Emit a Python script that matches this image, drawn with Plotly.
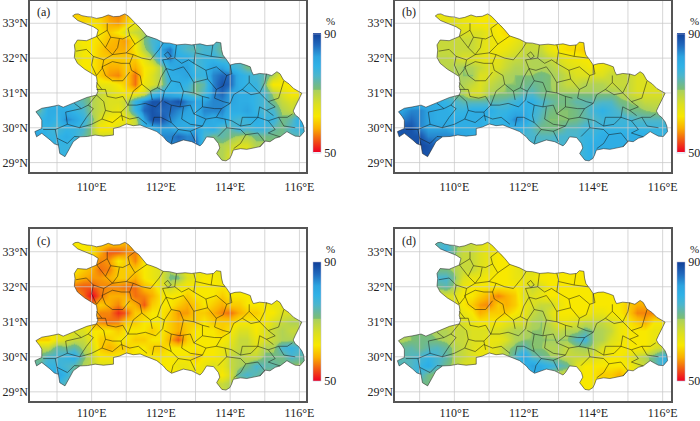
import plotly.graph_objects as go
from plotly.subplots import make_subplots

# grid of the humidity fields, 0.25 degree
lons = [108.25 + 0.25 * i for i in range(33)]
lats = [33.25 - 0.25 * i for i in range(18)]

panel_a = [
    [62,62,62,62,62,60,60, 61,60,57,56,58,64,68,70, 72,74,74,74,74,74,74,74, 74,74,74,74,74,74,74,74, 74,74],
    [62,62,62,62,62,62,61, 62,61,58,57,60,64,68,70, 72,74,74,74,74,74,74,74, 74,74,74,74,74,74,74,74, 74,74],
    [64,64,64,64,64,64,63, 62,62,60,62,66,68,70,72, 74,76,76,76,76,76,76,74, 74,74,74,74,74,74,74,74, 74,74],
    [66,66,66,66,66,64,62, 62,61,59,58,57,62,72,76, 78,78,76,76,76,76,76,74, 74,74,74,74,74,74,74,74, 74,74],
    [66,66,66,66,66,66,63, 62,60,58,58,58,62,70,75, 82,85,78,75,74,76,76,72, 74,74,74,74,74,74,74,74, 74,74],
    [66,66,66,66,66,66,62, 62,60,60,60,60,60,64,70, 80,84,80,80,76,78,78,75, 76,74,74,74,74,74,74,74, 74,74],
    [64,64,64,64,64,64,62, 62,60,58,58,60,58,62,64, 70,80,82,82,76,78,82,82, 78,76,72,72,72,72,72,72, 72,72],
    [66,66,66,66,66,66,66, 62,60,57,56,60,55,62,66, 70,80,80,82,78,78,84,86, 86,80,78,76,74,70,64,64, 64,64],
    [68,68,68,68,68,68,68, 66,64,64,62,60,55,64,66, 70,78,80,78,72,74,84,88, 86,80,78,78,72,62,62,62, 62,62],
    [72,72,72,72,72,72,72, 70,68,66,64,62,62,66,76, 80,80,78,76,72,76,84,86, 82,80,80,78,76,70,66,62, 62,62],
    [76,76,76,76,76,76,74, 70,68,66,66,68,78,84,88, 88,86,88,84,82,82,84,84, 82,80,80,78,76,72,68,66, 68,68],
    [74,74,80,80,80,78,76, 70,68,66,64,68,78,86,88, 86,86,84,82,80,84,84,84, 80,80,82,78,76,76,70,68, 70,70],
    [78,78,80,78,84,82,78, 72,66,62,62,64,68,82,88, 88,84,82,80,80,82,80,82, 78,76,78,80,78,78,72,74, 80,80],
    [80,78,78,76,78,78,76, 70,62,62,66,66,68,78,80, 82,82,80,80,82,78,80,74, 74,78,76,78,78,74,72,76, 78,78],
    [82,82,78,78,80,78,74, 70,68,68,68,68,70,72,78, 84,84,86,84,84,76,72,74, 72,70,70,72,72,72,72,74, 74,74],
    [80,80,80,78,78,76,72, 70,70,70,70,70,70,70,70, 84,84,84,84,86,76,70,70, 68,66,66,70,70,70,70,70, 70,70],
    [78,78,78,78,78,78,78, 70,70,70,70,70,70,70,70, 84,84,84,84,84,74,70,70, 66,66,66,68,68,68,68,68, 68,68],
    [78,78,78,78,78,78,78, 70,70,70,70,70,70,70,70, 84,84,84,84,84,74,70,70, 66,66,66,68,68,68,68,68, 68,68],
]
panel_b = [
    [64,64,64,64,64,64,64, 64,64,64,62,62,62,62,62, 62,62,62,62,62,62,62,62, 62,62,62,62,62,62,62,62, 62,62],
    [65,65,65,65,65,65,65, 66,64,63,62,62,62,62,62, 62,62,62,62,62,62,62,62, 62,62,62,62,62,62,62,62, 62,62],
    [66,66,66,66,66,66,66, 66,66,66,66,64,62,61,62, 64,64,64,64,64,64,64,64, 64,64,64,64,64,64,64,64, 64,64],
    [68,68,68,68,68,68,68, 68,68,68,66,64,63,62,64, 66,68,66,64,62,62,62,62, 62,62,62,62,62,62,62,62, 62,62],
    [68,68,68,68,68,68,68, 68,68,68,66,64,63,64,66, 68,68,68,64,62,61,61,60, 62,62,62,62,62,62,62,62, 62,62],
    [69,69,69,69,69,69,69, 68,66,66,65,64,65,67,68, 69,70,70,68,66,64,63,62, 62,62,62,62,62,62,62,62, 62,62],
    [69,69,69,69,69,69,69, 70,71,70,68,66,66,68,70, 70,70,70,70,68,66,65,64, 62,64,66,66,66,66,66,66, 66,66],
    [70,70,70,70,70,70,70, 70,71,71,66,66,68,70,71, 71,71,72,71,70,68,66,66, 66,66,68,68,68,66,66,66, 66,66],
    [71,71,71,71,71,71,71, 71,70,68,66,68,70,71,71, 72,73,72,71,70,68,68,70, 70,70,68,68,68,66,66,66, 66,66],
    [73,73,73,73,73,73,73, 71,70,66,66,70,71,71,72, 74,75,72,71,71,71,71,71, 71,71,71,70,68,66,66,66, 66,66],
    [78,78,78,78,78,80,78, 76,74,74,74,74,74,75,77, 79,79,76,74,72,72,74,74, 74,75,75,72,71,70,68,68, 68,68],
    [82,82,84,84,82,80,80, 78,78,80,80,80,78,78,80, 80,78,75,72,71,71,72,74, 77,79,77,75,72,72,71,70, 70,70],
    [84,84,86,84,82,80,80, 80,80,80,80,78,78,80,84, 82,77,74,71,71,71,72,74, 75,77,77,77,77,75,75,75, 75,75],
    [88,88,88,84,82,82,82, 80,80,80,80,78,78,78,80, 78,75,72,72,72,75,75,77, 77,78,78,78,78,78,78,78, 78,78],
    [86,88,88,88,84,84,84, 84,82,80,78,78,78,78,78, 76,76,75,75,76,76,76,78, 78,80,80,80,80,80,80,78, 78,78],
    [88,88,88,89,88,86,84, 82,82,80,78,78,78,78,78, 76,76,76,76,76,76,76,78, 80,80,80,80,80,80,80,78, 78,78],
    [88,88,88,88,88,86,84, 82,82,80,78,78,78,78,78, 76,76,76,76,76,76,76,78, 80,80,80,80,80,80,80,78, 78,78],
    [88,88,88,88,88,86,84, 82,82,80,78,78,78,78,78, 76,76,76,76,76,76,76,78, 80,80,80,80,80,80,80,78, 78,78],
]
panel_c = [
    [62,62,62,62,62,62,62, 61,60,60,60,58,62,64,66, 68,68,68,68,68,68,68,68, 68,68,68,68,68,68,68,68, 68,68],
    [62,62,62,62,62,62,62, 62,58,54,54,56,56,60,64, 68,68,68,68,68,68,68,68, 68,68,68,68,68,68,68,68, 68,68],
    [62,62,62,62,62,62,62, 60,56,57,62,60,56,62,64, 66,68,68,68,68,68,68,68, 68,68,68,68,68,68,68,68, 68,68],
    [62,62,62,62,62,62,60, 58,55,56,60,60,60,62,64, 66,70,68,64,64,64,64,64, 64,64,64,64,64,64,64,64, 64,64],
    [60,60,60,60,60,60,58, 57,57,58,60,60,58,62,64, 66,72,72,66,64,62,62,64, 64,64,64,64,64,64,64,64, 64,64],
    [58,58,58,58,58,55,54, 54,56,56,56,55,55,59,60, 64,68,64,62,62,62,62,62, 62,62,62,62,62,62,62,62, 62,62],
    [58,58,58,58,58,58,55, 50,55,58,58,58,55,56,58, 62,62,62,60,62,62,62,60, 62,62,62,62,62,62,62,62, 62,62],
    [60,60,60,60,60,60,60, 56,60,58,56,60,58,54,60, 62,62,60,58,60,62,60,58, 60,60,62,62,62,64,64,64, 64,64],
    [62,62,62,62,62,62,62, 60,56,56,52,54,60,60,62, 62,60,57,57,60,60,58,56, 55,58,60,60,62,62,66,66, 66,66],
    [64,64,64,64,64,64,64, 58,56,55,56,60,60,62,62, 62,60,58,60,60,62,60,60, 60,62,62,62,62,66,68,70, 70,70],
    [64,64,64,64,64,66,66, 62,62,62,60,62,62,62,60, 62,60,58,60,62,62,62,60, 62,66,66,62,66,68,70,68, 68,68],
    [60,60,60,64,66,68,68, 64,60,60,62,62,60,60,62, 62,58,54,60,62,62,62,62, 64,68,68,64,66,68,70,70, 70,70],
    [68,68,68,74,72,74,70, 66,60,58,60,60,62,62,60, 60,62,62,62,62,62,62,64, 66,68,68,66,70,70,76,78, 76,76],
    [72,72,76,76,78,80,72, 68,62,62,62,62,62,62,62, 62,62,62,62,60,62,62,64, 68,70,68,68,72,72,72,76, 74,74],
    [74,74,78,78,76,74,70, 68,66,66,64,62,62,62,62, 62,62,64,64,62,64,66,64, 68,70,72,76,74,74,72,70, 70,70],
    [76,76,76,82,78,72,68, 66,66,66,64,62,62,62,62, 62,62,62,64,64,64,64,62, 66,74,76,74,72,70,70,70, 70,70],
    [76,76,76,78,74,72,68, 66,66,66,64,62,62,62,62, 62,62,62,64,64,64,68,68, 70,70,70,70,70,70,70,70, 70,70],
    [76,76,76,78,74,72,68, 66,66,66,64,62,62,62,62, 62,62,62,64,64,64,68,68, 70,70,70,70,70,70,70,70, 70,70],
]
panel_d = [
    [70,70,70,70,72,74,76, 72,70,68,66,64,62,62,62, 62,62,62,62,62,62,62,62, 62,62,62,62,62,62,62,62, 62,62],
    [72,72,72,72,72,76,78, 72,68,68,66,64,62,62,62, 62,62,62,62,62,62,62,62, 62,62,62,62,62,62,62,62, 62,62],
    [72,72,72,72,72,72,72, 70,68,68,66,64,62,62,62, 62,62,62,62,62,62,62,62, 62,62,62,62,62,62,62,62, 62,62],
    [72,72,72,72,72,72,72, 70,68,68,66,64,62,62,64, 66,66,64,62,62,62,62,62, 62,62,62,62,62,62,62,62, 62,62],
    [74,74,74,74,74,76,76, 72,66,64,64,62,62,62,64, 64,64,62,62,62,62,62,62, 62,62,62,62,62,62,62,62, 62,62],
    [72,72,72,72,70,72,74, 70,64,62,62,62,62,62,62, 64,68,66,62,62,62,62,62, 62,62,62,62,62,62,62,62, 62,62],
    [66,66,66,66,66,66,66, 66,62,62,60,58,56,58,60, 66,66,64,62,62,62,62,62, 62,62,62,62,62,60,60,60, 60,60],
    [66,66,66,66,66,66,66, 66,62,60,57,56,60,58,60, 64,66,68,68,64,62,62,62, 62,62,62,62,60,58,58,58, 58,58],
    [66,66,66,66,66,66,66, 66,64,62,58,60,60,60,62, 64,68,70,66,62,62,62,62, 64,64,62,62,60,56,56,56, 56,56],
    [66,66,66,66,66,66,66, 66,66,64,62,62,62,64,66, 66,70,71,68,64,64,66,68, 68,68,66,64,62,60,58,62, 62,62],
    [71,71,71,71,71,70,70, 68,68,66,66,66,66,68,70, 70,71,71,70,68,70,70,73, 71,70,68,64,62,62,62,64, 64,64],
    [70,70,71,72,72,71,70, 68,68,66,66,64,64,66,70, 71,71,71,71,71,71,75,77, 71,70,66,64,62,62,62,64, 64,64],
    [71,73,74,72,74,75,73, 70,68,66,64,64,66,70,72, 75,71,71,70,70,68,70,71, 70,66,64,62,62,62,62,66, 68,70],
    [74,74,75,76,78,76,74, 70,68,66,64,64,66,70,75, 82,75,73,71,70,68,68,68, 66,64,62,62,64,68,70,73, 78,78],
    [75,75,75,78,80,76,72, 70,66,66,66,66,66,68,71, 78,82,80,78,75,73,66,62, 62,62,62,62,62,66,68,73, 78,78],
    [76,76,78,76,72,70,68, 68,68,68,68,68,68,68,71, 73,78,82,70,68,66,62,62, 62,60,60,58,62,66,68,70, 70,70],
    [72,72,72,72,72,70,68, 68,68,68,68,68,68,68,70, 74,76,76,70,68,66,62,62, 62,62,62,62,62,66,68,70, 70,70],
    [72,72,72,72,72,70,68, 68,68,68,68,68,68,68,70, 74,76,76,70,68,66,62,62, 62,62,62,62,62,66,68,70, 70,70],
]

# province outline
outline_lon = [109.45,109.52,109.61,109.72,109.87,110.0,110.14,110.3,110.48,110.63,110.8,110.96,111.07,111.16,111.25,111.36,111.45,111.59,111.72,111.88,112.07,112.25,112.46,112.7,112.89,113.13,113.33,113.52,113.6,113.73,
               113.75,113.79,113.9,114.0,114.14,114.29,114.45,114.58,114.62,114.67,114.85,115.06,115.2,115.35,115.44,115.54,115.7,115.83,116.07,115.97,115.92,115.88,115.82,115.88,115.97,116.07,116.12,116.14,116.02,115.88,115.76,115.64,115.44,
               115.3,115.15,115.0,114.87,114.68,114.48,114.3,114.09,114.04,113.99,113.88,113.76,113.61,113.7,113.66,113.52,113.32,113.2,113.13,112.89,112.65,112.48,112.31,112.17,112.07,111.88,111.65,111.40,111.2,111.01,
               110.8,110.63,110.63,110.47,110.34,110.10,109.88,109.66,109.55,109.47,109.36,109.23,109.08,109.04,108.92,108.80,108.56,108.41,108.36,108.56,108.56,108.5,108.39,108.56,108.8,109.04,
               109.18,109.38,109.57,109.86,110.14,110.18,110.14,110.16,110.14,110.0,109.8,109.59,109.5,109.52,109.5,109.59,109.85,110.14,110.19,110.05,109.81,109.6,109.45]
outline_lat = [33.21,33.26,33.27,33.22,33.19,33.18,33.14,33.17,33.24,33.19,33.2,33.27,33.2,33.11,33.00,32.92,32.81,32.64,32.6,32.54,32.44,32.43,32.38,32.4,32.38,32.41,32.36,32.38,32.46,32.44,
               32.25,32.09,31.95,31.80,31.84,31.85,31.8,31.75,31.62,31.52,31.56,31.54,31.5,31.61,31.55,31.37,31.26,31.13,30.99,30.80,30.72,30.61,30.48,30.37,30.3,30.17,30.05,29.89,29.75,29.76,29.82,29.89,29.74,
               29.7,29.60,29.62,29.46,29.42,29.38,29.4,29.36,29.22,29.12,29.05,29.07,29.26,29.42,29.55,29.72,29.74,29.55,29.48,29.60,29.65,29.6,29.53,29.62,29.74,29.89,29.98,30.08,30.06,30.11,
               30.02,29.98,29.79,29.78,29.76,29.79,29.75,29.74,29.66,29.60,29.4,29.17,29.26,29.50,29.54,29.65,29.84,29.74,29.89,29.98,30.22,30.32,30.46,30.56,30.6,30.65,
               30.59,30.68,30.75,30.87,30.94,31.05,31.18,31.32,31.47,31.56,31.68,31.85,32.02,32.23,32.38,32.52,32.5,32.62,32.81,32.9,33.0,33.08,33.21]

# county borders
county_lines = [
    [(110.45,33.0),(110.45,32.8),(110.55,32.6),(110.9,32.55),(111.1,32.65),(111.05,32.85),(111.25,33.0)],
    [(110.45,32.8),(110.15,32.62)],
    [(110.55,32.6),(110.4,32.3),(110.6,32.1),(110.35,31.95),(110.3,31.7),(110.14,31.5)],
    [(109.55,32.2),(109.85,32.25),(110.05,32.05),(110.35,31.95)],
    [(110.4,32.3),(110.15,32.62)],
    [(111.1,32.65),(111.25,32.4),(111.0,32.15),(110.6,32.1)],
    [(111.25,32.4),(111.6,32.64)],
    [(111.0,32.15),(111.2,32.1),(111.45,32.0),(111.7,31.95),(111.95,32.25),(112.07,32.44)],
    [(111.2,32.1),(111.1,31.85),(111.15,31.65),(111.4,31.5),(111.45,31.25)],
    [(110.3,31.75),(110.6,31.9),(110.85,31.85),(111.1,31.85)],
    [(110.3,31.75),(110.4,31.5),(110.6,31.35),(110.9,31.35),(111.1,31.6)],
    [(110.14,31.1),(110.4,31.1),(110.45,30.9),(110.7,30.85),(110.9,30.9),(111.05,30.65),(110.85,30.45),(110.6,30.45),(110.4,30.5),(110.35,30.75),(110.14,30.94)],
    [(111.45,31.25),(111.7,31.05),(111.9,31.15),(112.1,31.05),(112.05,30.8),(111.85,30.6),(111.55,30.7),(111.3,30.65),(111.05,30.65)],
    [(111.9,31.15),(112.0,31.45),(112.15,31.7),(112.35,31.65),(112.65,31.75),(112.8,31.55),(112.95,31.3),(112.95,31.0),(113.2,30.9),(113.4,30.85)],
    [(112.15,31.7),(112.05,31.95),(112.4,32.0),(112.45,32.38)],
    [(112.4,32.0),(112.6,31.85),(112.8,31.95),(112.95,31.85),(113.0,32.2),(112.95,32.38)],
    [(112.95,31.85),(113.3,31.65),(113.35,31.4),(112.95,31.3)],
    [(113.0,32.15),(113.25,32.1),(113.45,32.05),(113.5,32.38)],
    [(113.45,32.05),(113.85,32.0)],
    [(113.3,31.65),(113.6,31.75),(113.9,31.5),(114.05,31.55),(114.0,31.8)],
    [(113.9,31.5),(113.8,31.2),(113.6,31.1),(113.35,31.4)],
    [(113.6,31.1),(113.55,30.85),(113.8,30.75),(114.0,30.7),(114.1,30.95),(114.35,31.1),(114.55,31.3),(114.55,31.5)],
    [(114.35,31.1),(114.6,30.95),(114.85,31.0),(115.0,31.3),(115.05,31.55)],
    [(114.85,31.0),(115.1,30.75),(115.4,30.85),(115.55,31.35)],
    [(115.1,30.75),(115.3,30.6),(115.05,30.5),(114.85,30.6),(114.8,30.3),(114.6,30.1),(114.3,30.05),(114.05,30.2),(113.85,30.25),(113.6,30.3),(113.3,30.25),
     (112.95,30.4),(112.85,30.65),(112.55,30.6),(112.3,30.65),(112.1,30.75)],
    [(114.0,30.7),(113.75,30.55),(113.6,30.3)],
    [(113.3,30.25),(113.2,30.05),(112.85,29.9),(112.5,29.95),(112.3,30.15),(112.0,30.3),(111.8,30.3),(111.75,30.05)],
    [(112.85,29.9),(113.0,29.6)],
    [(112.5,29.95),(112.35,29.75),(112.3,29.55)],
    [(113.85,30.25),(113.9,30.0),(113.65,29.75)],
    [(113.9,30.0),(114.3,29.95),(114.45,29.8),(114.3,29.55),(114.1,29.4)],
    [(114.45,29.8),(114.8,29.85),(115.0,29.6),(114.85,29.45)],
    [(114.8,30.3),(115.1,30.2),(115.4,30.3),(115.65,30.3),(115.8,30.4)],
    [(115.1,30.2),(115.3,29.95),(115.1,29.85),(115.44,29.74)],
    [(115.4,30.3),(115.55,30.05),(115.88,30.0)],
    [(110.14,30.94),(109.9,30.65),(109.7,30.55),(109.5,30.7)],
    [(109.7,30.55),(109.25,30.45),(109.3,30.1),(109.65,30.0),(110.0,30.1),(110.3,30.25)],
    [(109.65,30.0),(109.85,30.3),(110.05,30.55),(109.9,30.65)],
    [(109.3,30.1),(108.95,29.95),(109.0,29.7),(109.3,29.55),(109.5,29.75),(109.65,29.74)],
    [(108.95,29.95),(108.6,29.95)],
    [(109.0,29.7),(109.04,29.5)],
    [(110.3,30.25),(110.6,30.15),(110.85,30.35),(111.1,30.25),(111.35,30.3),(111.6,30.1)],
    [(110.4,30.5),(110.3,30.25)],
    [(111.45,31.25),(111.2,31.05),(111.05,30.65)],
    [(111.7,31.05),(111.75,30.8)],
    [(112.15,31.7),(112.3,31.35),(112.55,31.3),(112.65,31.05),(112.95,31.0)],
    [(112.3,31.35),(112.1,31.05)],
    [(112.55,30.6),(112.65,31.05)],
    [(112.95,30.4),(113.2,30.6),(113.2,30.9)],
    [(113.2,30.6),(113.55,30.55),(113.75,30.55)],
    [(112.3,30.65),(112.25,30.35),(112.3,30.15)],
    [(112.65,30.6),(112.6,30.25),(112.85,30.1),(113.2,30.05)],
    [(115.05,30.5),(115.25,30.35)],
    [(114.3,30.05),(114.35,30.3),(114.8,30.3)],
    [(114.55,31.3),(114.85,31.0)],
    [(114.0,31.8),(114.0,31.55)],
    [(110.85,30.45),(110.9,30.2)],
    [(110.14,31.3),(110.3,31.1)],
    [(110.05,32.05),(110.0,31.8),(110.14,31.5)],
    [(110.8,32.55),(110.75,32.3),(110.6,32.1)],
    [(112.1,32.1),(112.2,32.18),(112.3,32.05),(112.2,31.98),(112.1,32.1)],
]

lon_ticks = [110, 112, 114, 116]
lat_ticks = [29, 30, 31, 32, 33]
grid_lons = [109, 110, 111, 112, 113, 114, 115, 116]
grid_lats = [29, 30, 31, 32, 33]

colors = [[0, "#ee0022"], [0.12, "#f36a10"], [0.2, "#fbb000"], [0.3, "#f8e800"], [0.4, "#dce020"], [0.522, "#a8d060"],
          [0.526, "#7cbe72"], [0.58, "#68b89c"], [0.64, "#4cb6cc"], [0.72, "#30b2e6"], [0.8, "#2ca4e0"], [0.9, "#2068bc"], [1, "#103f98"]]

W, H = 700, 421
# label, values, frame left/right/top/bottom px, lon range, colorbar left px
panels = [
    ("(a)", panel_a, 30, 306, 1, 172, [108.22, 116.19], 313),
    ("(b)", panel_b, 395, 671, 1, 172, [108.29, 116.24], 677),
    ("(c)", panel_c, 30, 306, 229.3, 401.3, [108.22, 116.19], 313),
    ("(d)", panel_d, 395, 671, 229.3, 401.3, [108.29, 116.24], 677),
]
lat_range = [28.73, 33.64]
serif = "Liberation Serif"

fig = make_subplots(rows=2, cols=2)
county_x, county_y = [], []
for line in county_lines:
    county_x += [p[0] for p in line] + [None]
    county_y += [p[1] for p in line] + [None]

for i, (label, z, left, right, top, bottom, lon_range, bar_x) in enumerate(panels):
    row, col = i // 2 + 1, i % 2 + 1
    fig.add_trace(go.Heatmap(
        x=lons, y=lats, z=z, zmin=50, zmax=90, zsmooth="best", colorscale=colors,
        colorbar=dict(x=bar_x / W, xanchor="left", y=1 - (top + 92) / H, yanchor="middle", len=119 / H,
                      thickness=8, xpad=0, ypad=0, outlinewidth=0.5, outlinecolor="#b8b8d8",
                      tickmode="array", tickvals=[50, 90], ticktext=["50", "90"], ticks="",
                      tickfont=dict(family=serif, size=12, color="#222222")),
    ), row=row, col=col)

    # white mask outside the province, outer box then a keyhole into the outline
    x0, x1 = lon_range
    y0, y1 = lat_range
    fig.add_trace(go.Scatter(
        x=[x0, x1, x1, x0, x0] + outline_lon + [x0],
        y=[y0, y0, y1, y1, y0] + outline_lat + [y0],
        mode="lines", line=dict(width=0), fill="toself", fillcolor="white", hoverinfo="skip", showlegend=False,
    ), row=row, col=col)

    grid_x, grid_y = [], []
    for g in grid_lons:
        grid_x += [g, g, None]
        grid_y += [y0, y1, None]
    for g in grid_lats:
        grid_x += [x0, x1, None]
        grid_y += [g, g, None]
    fig.add_trace(go.Scatter(x=grid_x, y=grid_y, mode="lines", line=dict(color="rgba(200,200,200,0.75)", width=1),
                             hoverinfo="skip", showlegend=False), row=row, col=col)
    fig.add_trace(go.Scatter(x=county_x, y=county_y, mode="lines", line=dict(color="rgba(20,20,20,0.85)", width=0.6),
                             hoverinfo="skip", showlegend=False), row=row, col=col)
    fig.add_trace(go.Scatter(x=outline_lon, y=outline_lat, mode="lines", line=dict(color="rgba(40,40,40,0.8)", width=0.7),
                             hoverinfo="skip", showlegend=False), row=row, col=col)

    # bottom row sits close to the page edge, keep its labels inside
    fig.update_xaxes(domain=[left / W, right / W], range=lon_range, showgrid=False, zeroline=False, tickmode="array",
                     tickvals=lon_ticks, ticktext=[f"{v}°E" for v in lon_ticks], ticks="",
                     ticklabelstandoff=3 if row == 1 else 0,
                     tickfont=dict(family=serif, size=12, color="#222222"), showline=True, mirror=True,
                     linecolor="#555555", linewidth=1.5, row=row, col=col)
    fig.update_yaxes(domain=[1 - bottom / H, 1 - top / H], range=lat_range, showgrid=False, zeroline=False, tickmode="array",
                     tickvals=lat_ticks, ticktext=[f"{v}°N" for v in lat_ticks], ticks="", ticklabelstandoff=-2,
                     tickfont=dict(family=serif, size=12, color="#222222"), showline=True, mirror=True,
                     linecolor="#555555", linewidth=1.5, row=row, col=col)

    fig.add_annotation(x=(left + 4.5) / W, y=1 - (top + 11.5) / H, xref="paper", yref="paper", text=label, showarrow=False,
                       xanchor="left", yanchor="middle", font=dict(family=serif, size=12, color="#222222"))
    fig.add_annotation(x=(bar_x + 17) / W, y=1 - (top + 19.5) / H, xref="paper", yref="paper", text="%", showarrow=False,
                       xanchor="center", yanchor="middle", font=dict(family=serif, size=11, color="#222222"))

# autoexpand off, or the colorbar labels shrink the whole plot area
fig.update_layout(width=W, height=H, margin=dict(l=0, r=0, t=0, b=0, autoexpand=False), paper_bgcolor="white", plot_bgcolor="white")
# the page's default body margin would push the fixed-size figure off the window
fig.write_html("out.html", config=dict(displayModeBar=False), post_script="document.body.style.margin='0';")
